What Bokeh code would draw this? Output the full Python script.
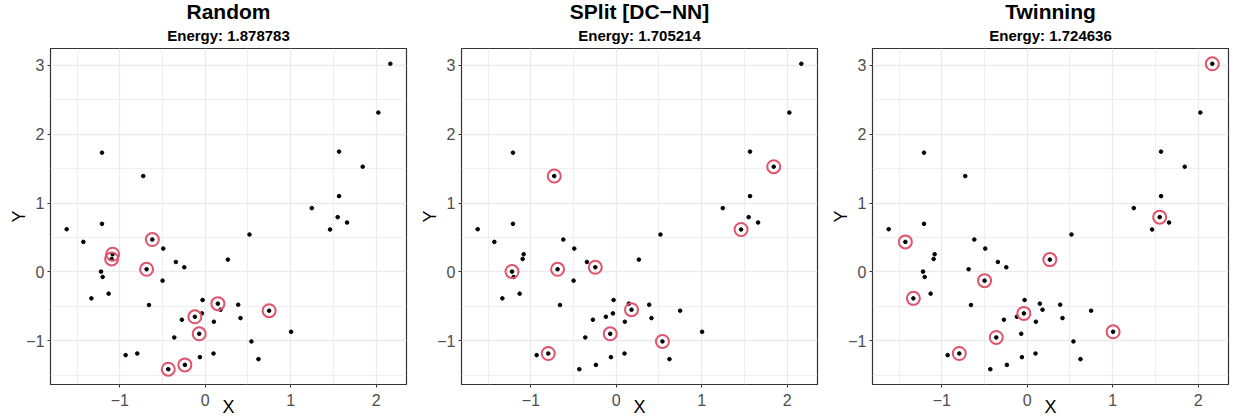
from bokeh.plotting import figure
from bokeh.models import Title, FixedTicker, Range1d
from bokeh.layouts import row
from bokeh.embed import file_html
from bokeh.resources import INLINE

# ---- data ----
x = [2.166, 2.026, 1.566, 1.843, 1.566, 1.247, 1.550, 1.660, 1.461, 0.518,
     -1.208, -0.725, -1.621, -1.208, -1.426, -0.619, -0.491, -1.083, -1.095, -0.343,
     -0.245, -0.686, 0.265, -1.219, -1.200, -0.499, -1.332, -1.130, -0.658, -0.031,
     0.148, 0.386, 0.179, 0.748, -0.039, -0.121, -0.273, 0.101, 0.413, -0.070,
     -0.362, 1.005, 0.541, -0.931, -0.795, 0.097, -0.062, 0.623, -0.238, -0.432]
y = [3.020, 2.312, 1.745, 1.527, 1.100, 0.926, 0.795, 0.717, 0.616, 0.543,
     1.730, 1.391, 0.620, 0.698, 0.436, 0.470, 0.339, 0.257, 0.189, 0.145,
     0.068, 0.039, 0.179, 0.005, -0.073, -0.126, -0.383, -0.315, -0.480, -0.407,
     -0.460, -0.475, -0.548, -0.562, -0.601, -0.650, -0.693, -0.722, -0.669, -0.897,
     -0.950, -0.868, -1.008, -1.207, -1.183, -1.183, -1.236, -1.265, -1.348, -1.411]

methods = ["Random", "SPlit [DC\u2212NN]", "Twinning"]
energies = ["1.878783", "1.705214", "1.724636"]
# indices (0-based) of the selected points per method
sel_random = [15, 17, 18, 21, 30, 33, 35, 39, 48, 49]
sel_split = [11, 3, 8, 23, 21, 20, 32, 39, 42, 44]
sel_twin = [0, 6, 14, 26, 25, 22, 34, 40, 44, 41]
selections = [sel_random, sel_split, sel_twin]

x_ticks = [-1, 0, 1, 2]
x_minor = [-1.5, -0.5, 0.5, 1.5]
y_ticks = [-1, 0, 1, 2, 3]
y_minor = [-1.5, -0.5, 0.5, 1.5, 2.5]

FONT = "Liberation Sans"


def label_map(ticks):
    return {t: (("\u2212" + str(abs(t))) if t < 0 else str(t)) for t in ticks}


def expand(vals, f=0.05):
    lo, hi = min(vals), max(vals)
    d = (hi - lo) * f
    return lo - d, hi + d


xlo, xhi = expand(x)
ylo, yhi = expand(y)


def make_panel(name, energy, sel):
    p = figure(width=411, height=419, output_backend="svg", toolbar_location=None,
               title=None, x_range=Range1d(xlo, xhi), y_range=Range1d(ylo, yhi),
               min_border_left=50, min_border_right=5, min_border_top=0,
               min_border_bottom=0, background_fill_color="white",
               border_fill_color="white")
    p.outline_line_color = "#333333"
    p.outline_line_width = 1.2

    p.add_layout(Title(text="Energy: " + energy, align="center", text_font=FONT,
                       text_font_size="15px", text_font_style="bold",
                       text_color="black", standoff=9, offset=0), "above")
    p.add_layout(Title(text=name, align="center", text_font=FONT,
                       text_font_size="21px", text_font_style="bold",
                       text_color="black", standoff=-5, offset=0), "above")

    p.xaxis.ticker = FixedTicker(ticks=x_ticks, minor_ticks=x_minor)
    p.yaxis.ticker = FixedTicker(ticks=y_ticks, minor_ticks=y_minor)
    p.xaxis.major_label_overrides = label_map(x_ticks)
    p.yaxis.major_label_overrides = label_map(y_ticks)
    p.xaxis.axis_label = "X"
    p.yaxis.axis_label = "Y"
    for ax in (p.xaxis, p.yaxis):
        ax.axis_line_color = None
        ax.major_tick_out = 3
        ax.major_tick_in = 0
        ax.major_tick_line_color = "#333333"
        ax.minor_tick_line_color = None
        ax.major_label_text_font = FONT
        ax.major_label_text_font_size = "16px"
        ax.major_label_text_color = "#4D4D4D"
        ax.major_label_standoff = 2
        ax.axis_label_text_font = FONT
        ax.axis_label_text_font_size = "18px"
        ax.axis_label_text_font_style = "normal"
        ax.axis_label_text_color = "black"
    p.xaxis.axis_label_standoff = -12
    p.xaxis.major_label_standoff = 5
    p.yaxis.axis_label_standoff = -6
    p.yaxis.major_label_orientation = "horizontal"

    for g in (p.xgrid, p.ygrid):
        g.grid_line_color = "#EBEBEB"
        g.grid_line_width = 1.3
        g.minor_grid_line_color = "#EBEBEB"
        g.minor_grid_line_width = 0.8

    p.scatter(x, y, size=3.6, color="black")
    p.scatter([x[i] for i in sel], [y[i] for i in sel], size=13, fill_color=None,
              line_color="#DF536B", line_width=2)
    return p


panels = [make_panel(m, e, s) for m, e, s in zip(methods, energies, selections)]
layout = row(*panels, spacing=0)

open("out.html", "w").write(file_html(layout, INLINE))
